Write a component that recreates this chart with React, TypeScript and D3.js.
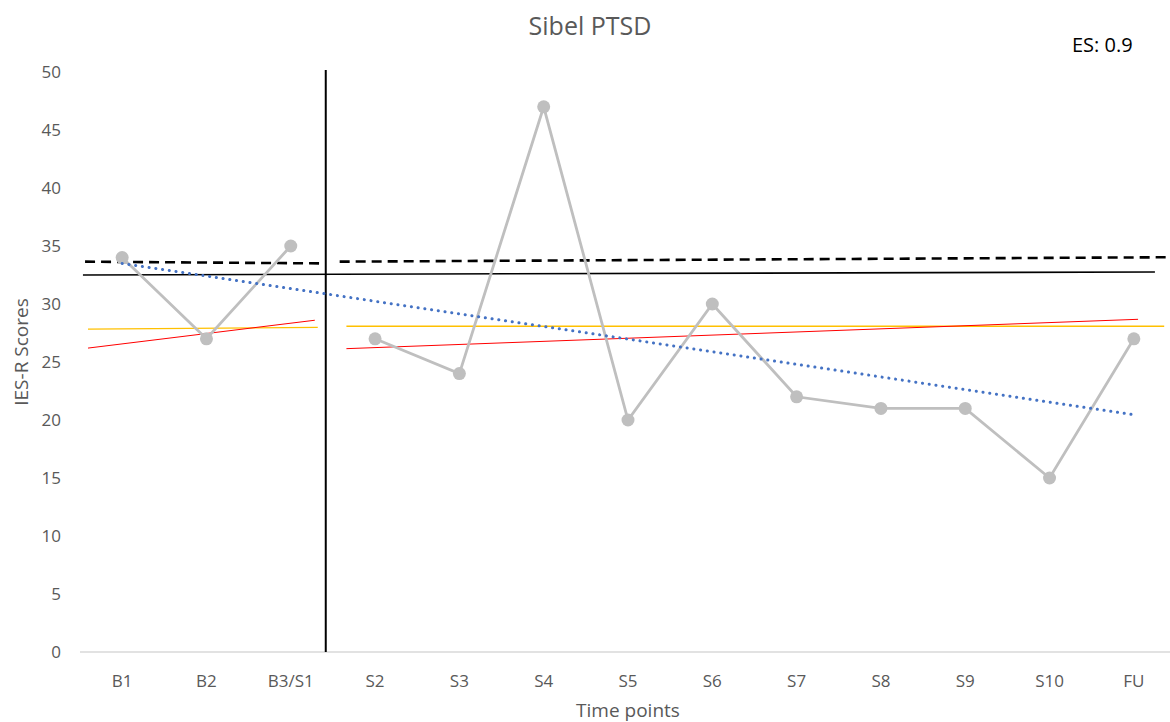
import React from 'react';
import { scaleLinear, line, range } from 'd3';

const categories = ['B1', 'B2', 'B3/S1', 'S2', 'S3', 'S4', 'S5', 'S6', 'S7', 'S8', 'S9', 'S10', 'FU'];
const baselineScores = [34, 27, 35];
const treatmentScores = [27, 24, 47, 20, 30, 22, 21, 21, 15, 27];
const yTicks = range(0, 55, 5);

// reference lines, as [category index, score]
const dashedBaseline: [number, number][] = [[-0.44, 33.65], [2.37, 33.5]];
const dashedTreatment: [number, number][] = [[2.58, 33.65], [12.39, 34.03]];
const solidMean: [number, number][] = [[-0.465, 32.5], [12.25, 32.76]];
const yellowBaseline: [number, number][] = [[-0.405, 27.84], [2.32, 27.99]];
const yellowTreatment: [number, number][] = [[2.66, 28.08], [12.36, 28.08]];
const redBaseline: [number, number][] = [[-0.405, 26.2], [2.285, 28.6]];
const redTreatment: [number, number][] = [[2.66, 26.15], [12.05, 28.68]];
const blueTrend: [number, number][] = [[0, 33.5], [12, 20.45]];
const phaseChange = 2.415;

const W = 1170;
const H = 722;
const font = '"Open Sans", sans-serif';
const textGray = '#595959';

const App: React.FC = () => {
  const x = scaleLinear().domain([-0.5, 12.5]).range([80, 1176]);
  const y = scaleLinear().domain([0, 50]).range([652, 72]);
  const path = line<[number, number]>()
    .x((d) => x(d[0]))
    .y((d) => y(d[1]));

  const basePts: [number, number][] = baselineScores.map((v, i) => [i, v]);
  const treatPts: [number, number][] = treatmentScores.map((v, i) => [i + 3, v]);

  return (
    <svg width={W} height={H} style={{ position: 'absolute', left: 0, top: 0, background: '#fff' }}>
      <rect width={W} height={H} fill="#fff" />
      <text x={590} y={35} textAnchor="middle" fontFamily={font} fontSize={25} fill={textGray}>
        Sibel PTSD
      </text>
      <text x={1072} y={52} fontFamily={font} fontSize={20} fill="#000">
        ES: 0.9
      </text>

      {/* y axis labels */}
      {yTicks.map((t) => (
        <text key={t} x={61} y={y(t)} dy="0.35em" textAnchor="end" fontFamily={font} fontSize={17} fill={textGray}>
          {t}
        </text>
      ))}
      <text
        transform={`translate(21, ${(y(0) + y(50)) / 2 - 10}) rotate(-90)`}
        textAnchor="middle"
        dy="0.35em"
        fontFamily={font}
        fontSize={19}
        fill={textGray}
      >
        IES-R Scores
      </text>

      {/* x axis */}
      <line x1={x(-0.5)} x2={x(12.5)} y1={y(0)} y2={y(0)} stroke="#d9d9d9" strokeWidth={1.5} />
      {categories.map((c, i) => (
        <text key={c} x={x(i)} y={687} textAnchor="middle" fontFamily={font} fontSize={17} fill={textGray}>
          {c}
        </text>
      ))}
      <text x={x(6)} y={717} textAnchor="middle" fontFamily={font} fontSize={19} fill={textGray}>
        Time points
      </text>

      {/* phase change line */}
      <line x1={x(phaseChange)} x2={x(phaseChange)} y1={70} y2={y(0)} stroke="#000" strokeWidth={2} />

      {/* reference lines */}
      <path d={path(yellowBaseline) || ''} fill="none" stroke="#FFC000" strokeWidth={1.3} />
      <path d={path(yellowTreatment) || ''} fill="none" stroke="#FFC000" strokeWidth={1.3} />
      <path d={path(redBaseline) || ''} fill="none" stroke="#FF0000" strokeWidth={1} />
      <path d={path(redTreatment) || ''} fill="none" stroke="#FF0000" strokeWidth={1} />
      <path d={path(solidMean) || ''} fill="none" stroke="#000" strokeWidth={1.6} />
      <path d={path(dashedBaseline) || ''} fill="none" stroke="#000" strokeWidth={2.6} strokeDasharray="10 6" />
      <path d={path(dashedTreatment) || ''} fill="none" stroke="#000" strokeWidth={2.6} strokeDasharray="10 6" />

      {/* scores */}
      <path d={path(basePts) || ''} fill="none" stroke="#bfbfbf" strokeWidth={2.8} />
      <path d={path(treatPts) || ''} fill="none" stroke="#bfbfbf" strokeWidth={2.8} />
      {[...basePts, ...treatPts].map((d, i) => (
        <circle key={i} cx={x(d[0])} cy={y(d[1])} r={6.5} fill="#bfbfbf" />
      ))}

      {/* linear trend */}
      <path
        d={path(blueTrend) || ''}
        fill="none"
        stroke="#4472C4"
        strokeWidth={3}
        strokeLinecap="round"
        strokeDasharray="0.1 6.7"
      />
    </svg>
  );
};

export default App;
